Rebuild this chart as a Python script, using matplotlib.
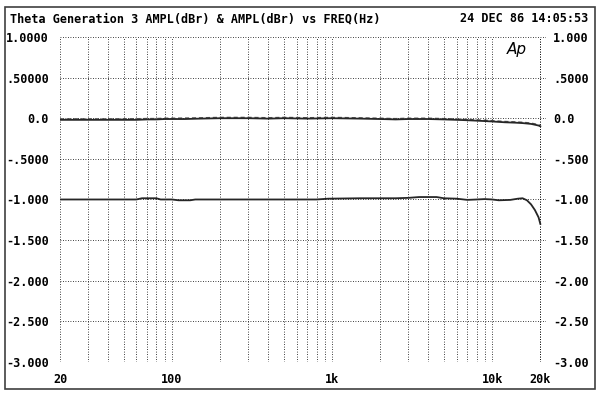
import numpy as np
import matplotlib
matplotlib.use("Agg")
import matplotlib.pyplot as plt
from matplotlib.patches import Rectangle

plt.rcParams.update({"font.family": "DejaVu Sans Mono", "font.size": 8.5})

# ---- data ----
freq_a = [20, 25, 30, 40, 50, 60, 70, 80, 90, 100, 120, 150, 200, 300, 400, 500, 700,
          1000, 1500, 2000, 2500, 3000, 4000, 5000, 6000, 7000, 8000, 10000, 12000,
          14000, 15500, 16500, 17500, 18500, 19500, 20000]
ampl_solid = [-0.02, -0.02, -0.02, -0.02, -0.02, -0.02, -0.015, -0.015, -0.01, -0.01, -0.01,
              -0.005, 0.0, 0.0, -0.005, 0.0, -0.005, 0.0, -0.005, -0.01, -0.015, -0.01, -0.01,
              -0.015, -0.02, -0.025, -0.03, -0.04, -0.05, -0.055, -0.06, -0.065, -0.07, -0.08,
              -0.09, -0.10]
ampl_dash = [-0.008, -0.008, -0.008, -0.008, -0.006, -0.006, -0.004, -0.004, 0.0, 0.0, 0.002,
             0.005, 0.01, 0.01, 0.006, 0.01, 0.006, 0.01, 0.005, 0.0, -0.005, 0.0, 0.0,
             -0.005, -0.01, -0.015, -0.02, -0.03, -0.04, -0.045, -0.05, -0.055, -0.06, -0.07,
             -0.08, -0.09]
freq_b = [20, 30, 50, 60, 65, 80, 85, 100, 110, 130, 140, 200, 500, 800, 950, 1500, 2000,
          2500, 3000, 3500, 4500, 5000, 6000, 7000, 8000, 9000, 10000, 11000, 13000, 14500,
          15500, 16500, 17500, 18500, 19500, 20000]
ampl_b = [-1.0, -1.0, -1.0, -1.0, -0.985, -0.985, -1.0, -1.0, -1.01, -1.01, -1.0, -1.0, -1.0,
          -1.0, -0.99, -0.985, -0.985, -0.985, -0.98, -0.97, -0.97, -0.985, -0.99, -1.005,
          -1.0, -0.995, -1.0, -1.01, -1.005, -0.99, -0.985, -1.01, -1.06, -1.13, -1.22, -1.30]

yticks = [1.0, 0.5, 0.0, -0.5, -1.0, -1.5, -2.0, -2.5, -3.0]
ylab_left = ["1.0000", ".50000", "0.0", "-.5000", "-1.000", "-1.500", "-2.000", "-2.500", "-3.000"]
ylab_right = ["1.000", ".5000", "0.0", "-.500", "-1.00", "-1.50", "-2.00", "-2.50", "-3.00"]
xticks = [20, 100, 1000, 10000, 20000]
xlabs = ["20", "100", "1k", "10k", "20k"]

fig = plt.figure(figsize=(6.0, 3.94), dpi=100)
fig.patches.append(Rectangle((0.008, 0.012), 0.984, 0.97, transform=fig.transFigure,
                             fill=False, lw=1.2, ec="0.25"))
ax = fig.add_axes([0.1, 0.0812, 0.81, 0.825])
ax.set_xscale("log")
ax.set_xlim(20, 21700); ax.set_ylim(-3, 1)

# dotted grid, every minor decade line, plus the frame edges
grid_f = [m * 10 ** e for e in range(1, 5) for m in range(1, 10)] + [20000, 21700]
for f in grid_f:
    if 20 <= f <= 21700:
        ax.axvline(f, color="k", lw=0.6, ls=(0, (1, 2)), zorder=1)
for y in yticks:
    ax.axhline(y, color="k", lw=0.6, ls=(0, (1, 2)), zorder=1)
for s in ax.spines.values():
    s.set_visible(False)

ax.plot(freq_a, ampl_dash, color="0.35", lw=1.0, ls=(0, (3, 2)), zorder=3)
ax.plot(freq_a, ampl_solid, color="0.15", lw=1.3, zorder=3)
ax.plot(freq_b, ampl_b, color="0.15", lw=1.3, zorder=3)

ax.set_yticks(yticks); ax.set_yticklabels(ylab_left)
ax.set_xticks(xticks); ax.set_xticklabels(xlabs)
ax.xaxis.set_minor_locator(matplotlib.ticker.NullLocator())
ax.tick_params(length=0, labelsize=8.5, pad=8)
for t in ax.get_xticklabels() + ax.get_yticklabels():
    t.set_fontweight("bold")
ax2 = ax.twinx()
ax2.set_ylim(-3, 1)
ax2.set_yticks(yticks); ax2.set_yticklabels(ylab_right, fontweight="bold")
ax2.tick_params(length=0, labelsize=8.5, pad=5)
for s in ax2.spines.values():
    s.set_visible(False)

fig.text(0.017, 0.952, "Theta Generation 3 AMPL(dBr) & AMPL(dBr) vs FREQ(Hz)",
         fontsize=8.5, fontweight="bold", va="center", ha="left")
fig.text(0.98, 0.952, "24 DEC 86 14:05:53", fontsize=8.5, fontweight="bold",
         va="center", ha="right")
ax.text(0.94, 0.985, "Ap", transform=ax.transAxes, fontsize=11, style="italic",
        family="DejaVu Sans", fontweight="light", ha="center", va="top")

fig.savefig("out.png", dpi=100, facecolor="white")
